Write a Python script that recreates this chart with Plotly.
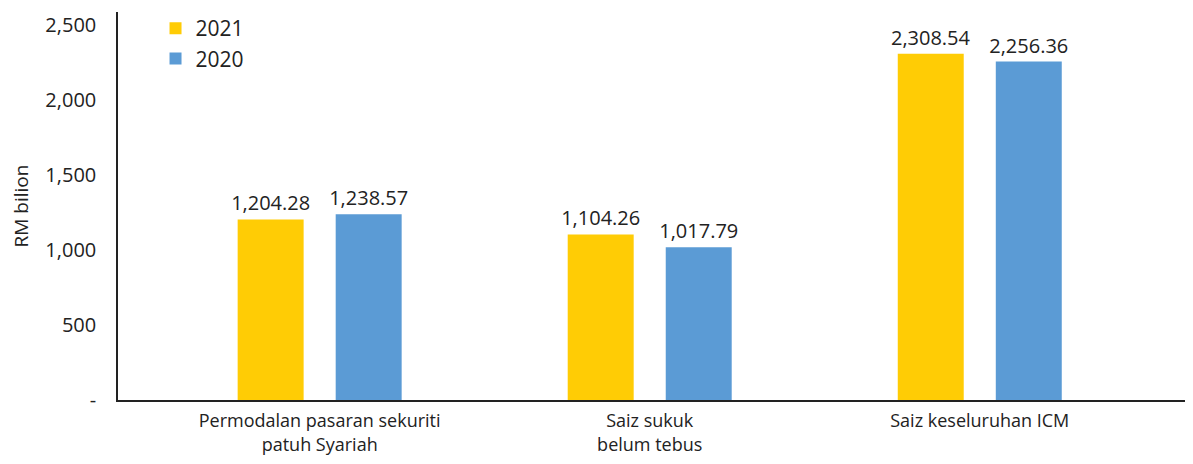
import plotly.graph_objects as go

categories = ["Permodalan pasaran sekuriti<br>patuh Syariah", "Saiz sukuk<br>belum tebus", "Saiz keseluruhan ICM"]
values_2021 = [1204.28, 1104.26, 2308.54]
values_2020 = [1238.57, 1017.79, 2256.36]
series_names = ["2021", "2020"]
tick_vals = [0, 500, 1000, 1500, 2000, 2500]
tick_text = ["-", "500", "1,000", "1,500", "2,000", "2,500"]

FONT = "Open Sans"
TXT = "#222222"

fig = go.Figure()
fig.add_trace(go.Bar(
    x=categories, y=values_2021, name=series_names[0],
    marker=dict(color="#FFCC05", line=dict(width=0)),
    text=[f"{v:,.2f}" for v in values_2021], textposition="outside",
    constraintext="none",
    textfont=dict(family=FONT, size=20, color=TXT), cliponaxis=False,
))
fig.add_trace(go.Bar(
    x=categories, y=values_2020, name=series_names[1],
    marker=dict(color="#5B9BD5", line=dict(width=0)),
    text=[f"{v:,.2f}" for v in values_2020], textposition="outside",
    constraintext="none",
    textfont=dict(family=FONT, size=20, color=TXT), cliponaxis=False,
))

# page body has an 8px default margin: figure is 1185x456 placed at (8,8)
fig.update_layout(
    width=1185, height=456,
    margin=dict(l=110, r=3, t=4, b=64, autoexpand=False),
    paper_bgcolor="white", plot_bgcolor="white",
    barmode="group", bargap=0.406, bargroupgap=0.327,
    font=dict(family=FONT, color=TXT, size=18),
    showlegend=True,
    legend=dict(x=0.035, y=1.0, yref="container", xanchor="left", yanchor="top",
                font=dict(family=FONT, size=21, color=TXT),
                bgcolor="rgba(0,0,0,0)", itemwidth=30),
    uniformtext=dict(mode=False),
)
fig.update_xaxes(
    range=[-0.611, 2.637], showline=True, linecolor="#222222", linewidth=1.5,
    showgrid=False, ticks="outside", ticklen=4, tickcolor="rgba(0,0,0,0)",
    tickfont=dict(family=FONT, size=18, color=TXT),
)
fig.update_yaxes(
    range=[0, 2587], showline=True, linecolor="#222222", linewidth=1.5,
    showgrid=False, zeroline=False, ticks="outside", ticklen=16, tickcolor="rgba(0,0,0,0)",
    tickvals=tick_vals, ticktext=tick_text,
    tickfont=dict(family=FONT, size=20, color=TXT),
    title=dict(text="RM bilion", font=dict(family=FONT, size=19, color=TXT), standoff=22),
)

fig.write_html("out.html")
